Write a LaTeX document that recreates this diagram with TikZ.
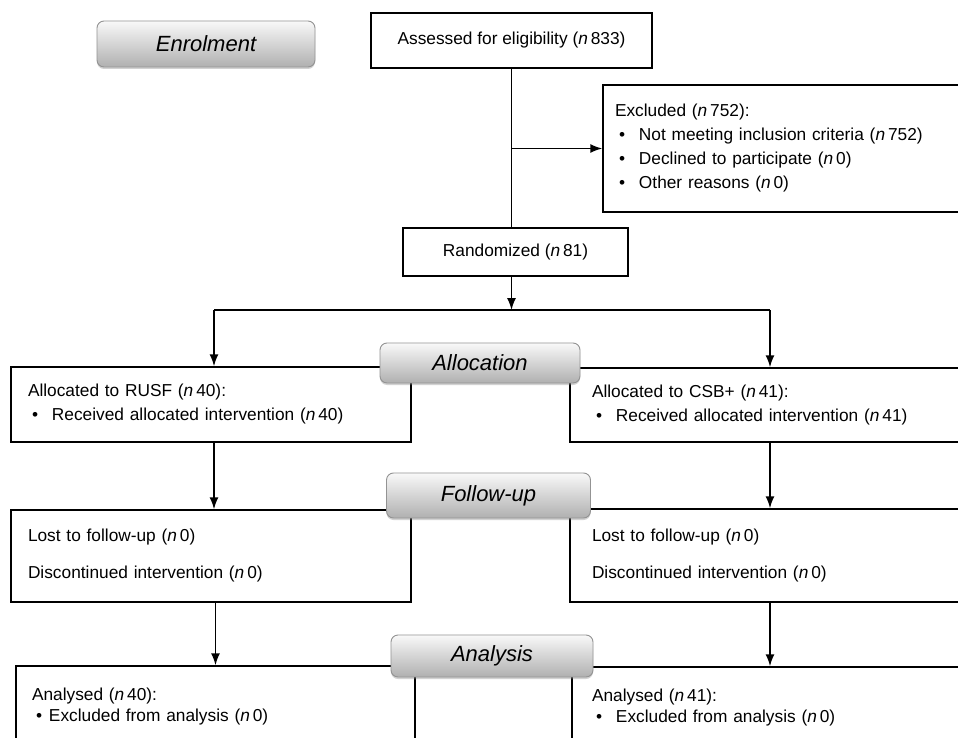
\documentclass[tikz,border=0pt]{standalone}
\usepackage{fontspec}
\setmainfont{Liberation Sans}
\usetikzlibrary{arrows.meta,shadows}

\newcommand{\nn}[1]{(\textit{n}\,#1)}
\newcommand{\bitem}[2][20pt]{\hspace*{4pt}\makebox[#1][l]{\textbullet}#2}

\tikzset{
  plainbox/.style={draw, line width=1.5pt, fill=white, inner sep=0pt,
    font=\fontsize{17.3}{24}\selectfont},
  listbox/.style={plainbox, align=left},
  phase/.style={draw=gray!85, line width=0.9pt, rounded corners=7pt,
    top color=gray!5, bottom color=gray!62,
    drop shadow={shadow xshift=0pt, shadow yshift=-2pt, opacity=0.35},
    font=\fontsize{22}{26}\selectfont\itshape},
  link/.style={line width=1.5pt, -{Latex[length=12pt,width=9pt]}},
  plainlink/.style={line width=1.5pt}
}

\begin{document}
\begin{tikzpicture}[x=1pt,y=-1pt]
  \useasboundingbox (0,0) rectangle (958,738);
  \fill[white] (0,0) rectangle (958,738);

  % enrolment
  \node[plainbox, minimum width=281pt, minimum height=55pt] (assess) at (511.5,40.5)
    {Assessed for eligibility \nn{833}};
  \node[listbox, inner xsep=12pt, text width=335pt, minimum height=127pt] (excl) at (782.5,148.5)
    {Excluded \nn{752}:\\
     \bitem{Not meeting inclusion criteria \nn{752}}\\
     \bitem{Declined to participate \nn{0}}\\
     \bitem{Other reasons \nn{0}}};
  \node[plainbox, minimum width=225pt, minimum height=48pt] (rand) at (515.5,252)
    {Randomized \nn{81}};

  \coordinate (split) at (511.5,310);
  \coordinate (splitL) at (214,310);
  \coordinate (splitR) at (770,310);

  % allocation
  \node[listbox, inner xsep=17pt, text width=366pt, minimum height=75pt] (rusf) at (211,404.5)
    {Allocated to RUSF \nn{40}:\\
     \bitem{Received allocated intervention \nn{40}}};
  \node[listbox, inner xsep=22pt, text width=348pt, minimum height=74pt] (csb) at (766,405)
    {Allocated to CSB+ \nn{41}:\\
     \bitem{Received allocated intervention \nn{41}}};

  % follow-up
  \node[listbox, inner xsep=17pt, text width=366pt, minimum height=92pt] (lostL) at (211,556)
    {Lost to follow-up \nn{0}\\[13pt]
     Discontinued intervention \nn{0}};
  \node[listbox, inner xsep=22pt, text width=348pt, minimum height=93pt] (lostR) at (766,555.5)
    {Lost to follow-up \nn{0}\\[13pt]
     Discontinued intervention \nn{0}};

  % analysis
  \node[listbox, inner xsep=16pt, text width=367pt, minimum height=82pt] (anaL) at (215.5,707)
    {Analysed \nn{40}:\\[-3pt]
     \bitem[13pt]{Excluded from analysis \nn{0}}};
  \node[listbox, inner xsep=20pt, text width=350pt, minimum height=81pt] (anaR) at (767,707.5)
    {Analysed \nn{41}:\\[-3pt]
     \bitem{Excluded from analysis \nn{0}}};

  % connectors
  \draw[plainlink] (assess.south) -- (assess.south |- rand.north);
  \draw[link] (assess.south |- excl.west) -- (excl.west);
  \draw[link] (rand.south -| split) -- (split);
  \draw[plainlink] (splitL) -- (splitR);
  \draw[link] (splitL) -- (splitL |- rusf.north);
  \draw[link] (splitR) -- (splitR |- csb.north);
  \draw[link] (rusf.south -| splitL) -- (splitL |- lostL.north);
  \draw[link] (csb.south -| splitR) -- (splitR |- lostR.north);
  \draw[link] (lostL.south -| anaL.north) -- (anaL.north);
  \draw[link] (lostR.south -| splitR) -- (splitR |- anaR.north);

  % phase labels
  \node[phase, minimum width=218pt, minimum height=46pt] (enrol) at (206,44) {Enrolment};
  \node[phase, minimum width=200pt, minimum height=40pt] (alloc) at (480,363) {Allocation};
  \node[phase, minimum width=204pt, minimum height=45pt] (fup) at (488.5,495.5) {Follow-up};
  \node[phase, minimum width=202pt, minimum height=42pt] (ana) at (492,656) {Analysis};
\end{tikzpicture}
\end{document}
